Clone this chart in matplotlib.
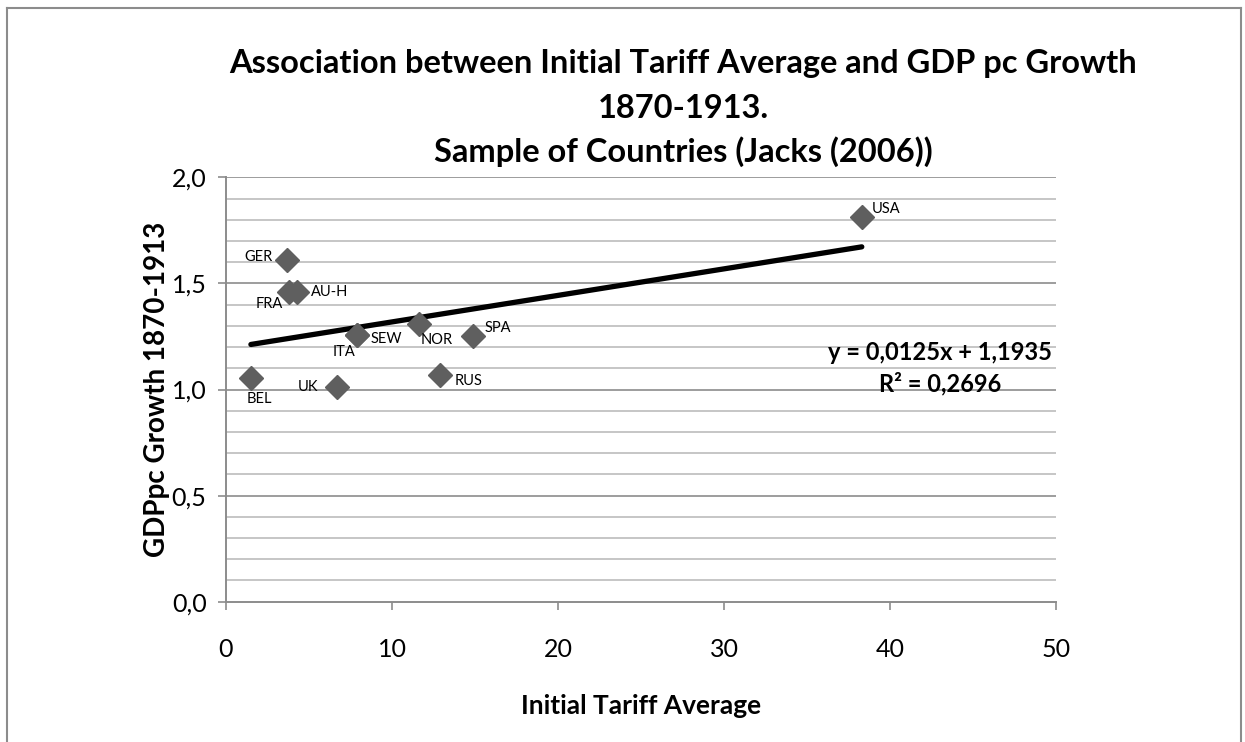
import matplotlib
matplotlib.use("Agg")
import matplotlib.pyplot as plt
from matplotlib.lines import Line2D
import numpy as np

plt.rcParams['font.family'] = ['Lato', 'DejaVu Sans']

countries = ["GER", "FRA", "AU-H", "ITA", "SEW", "NOR", "SPA", "BEL", "UK", "RUS", "USA"]
tariff = [3.7, 3.8, 4.3, 7.9, 7.9, 11.6, 14.9, 1.5, 6.7, 12.9, 38.3]
growth = [1.612, 1.458, 1.458, 1.255, 1.255, 1.308, 1.25, 1.054, 1.014, 1.069, 1.814]
# label offsets in pixels (dx, dy) and horizontal alignment
label_dx = [-15, -6, 14, -13, 13, 2, 11, 8, -19, 14, 10]
label_dy = [3, -12, 0, -17, -4, -16, 8, -21, 0, -6, 8]
label_ha = ["right", "right", "left", "center", "left", "left", "left", "center", "right", "left", "left"]

slope = 0.0125
intercept = 1.1935
r2 = 0.2696

x_ticks = [0, 10, 20, 30, 40, 50]
y_ticks = [0.0, 0.5, 1.0, 1.5, 2.0]

fig = plt.figure(figsize=(12.45, 7.42), dpi=100)
ax = fig.add_axes([226/1245, 1-601.7/742, (1056-226)/1245, (601.7-177.3)/742])

ax.set_xlim(0, 50)
ax.set_ylim(0, 2.0)

# gridlines
for v in np.arange(1, 20) / 10:
    if abs(v * 2 - round(v * 2)) < 1e-9:
        continue
    ax.axhline(v, color="#c6c6c6", lw=1.4, zorder=0)
for v in y_ticks[1:]:
    ax.axhline(v, color="#8c8c8c", lw=1.2, zorder=0)

for s in ["top", "right"]:
    ax.spines[s].set_visible(False)
for s in ["left", "bottom"]:
    ax.spines[s].set_color("#8c8c8c")
    ax.spines[s].set_linewidth(1.4)

ax.set_xticks(x_ticks)
ax.set_xticklabels([str(t) for t in x_ticks])
ax.set_yticks(y_ticks)
ax.set_yticklabels([f"{t:.1f}".replace(".", ",") for t in y_ticks])
ax.tick_params(axis="both", direction="out", length=6, width=1.2, color="#8c8c8c",
               labelsize=18, colors="black")
ax.tick_params(axis="x", pad=20)
ax.tick_params(axis="y", pad=8)
for lab in ax.get_xticklabels() + ax.get_yticklabels():
    lab.set_color("black")

# trend line
xs = np.array([min(tariff), max(tariff)])
ax.plot(xs, slope * xs + intercept, color="black", lw=3.8, solid_capstyle="round", zorder=2)

ax.plot(tariff, growth, linestyle="none", marker="D", markersize=12.5,
        color="#5f5f5f", markeredgecolor="#5f5f5f", zorder=3)

for c, x, y, dx, dy, ha in zip(countries, tariff, growth, label_dx, label_dy, label_ha):
    ax.annotate(c, (x, y), xytext=(dx, dy), textcoords="offset pixels",
                ha=ha, va="center", fontsize=10.5, color="black", zorder=4)

ax.text(43.0, 1.175, f"y = {slope:.4f}x + {intercept:.4f}".replace(".", ","),
        ha="center", va="center", fontsize=17, fontweight="bold")
ax.text(43.0, 1.03, f"R² = {r2:.4f}".replace(".", ","),
        ha="center", va="center", fontsize=17, fontweight="bold")

ax.set_xlabel("Initial Tariff Average", fontsize=19, fontweight="bold", labelpad=24)
ax.set_ylabel("GDPpc Growth 1870-1913", fontsize=20, fontweight="bold", labelpad=1)

fig.text(683/1245, 1-64/742, "Association between Initial Tariff Average and GDP pc Growth",
         ha="center", va="center", fontsize=23.5, fontweight="bold")
fig.text(683/1245, 1-108/742, "1870-1913.", ha="center", va="center", fontsize=23.5, fontweight="bold")
fig.text(683/1245, 1-152/742, "Sample of Countries (Jacks (2006))", ha="center", va="center",
         fontsize=23.5, fontweight="bold")

# outer chart border (top, left, right)
bc = "#8c8c8c"
fig.add_artist(Line2D([7/1245, 7/1245], [0, 1-8/742], transform=fig.transFigure, color=bc, lw=1.5))
fig.add_artist(Line2D([7/1245, 1241/1245], [1-8/742, 1-8/742], transform=fig.transFigure, color=bc, lw=1.5))
fig.add_artist(Line2D([1241/1245, 1241/1245], [0, 1-8/742], transform=fig.transFigure, color=bc, lw=1.5))

fig.savefig("out.png", dpi=100)
